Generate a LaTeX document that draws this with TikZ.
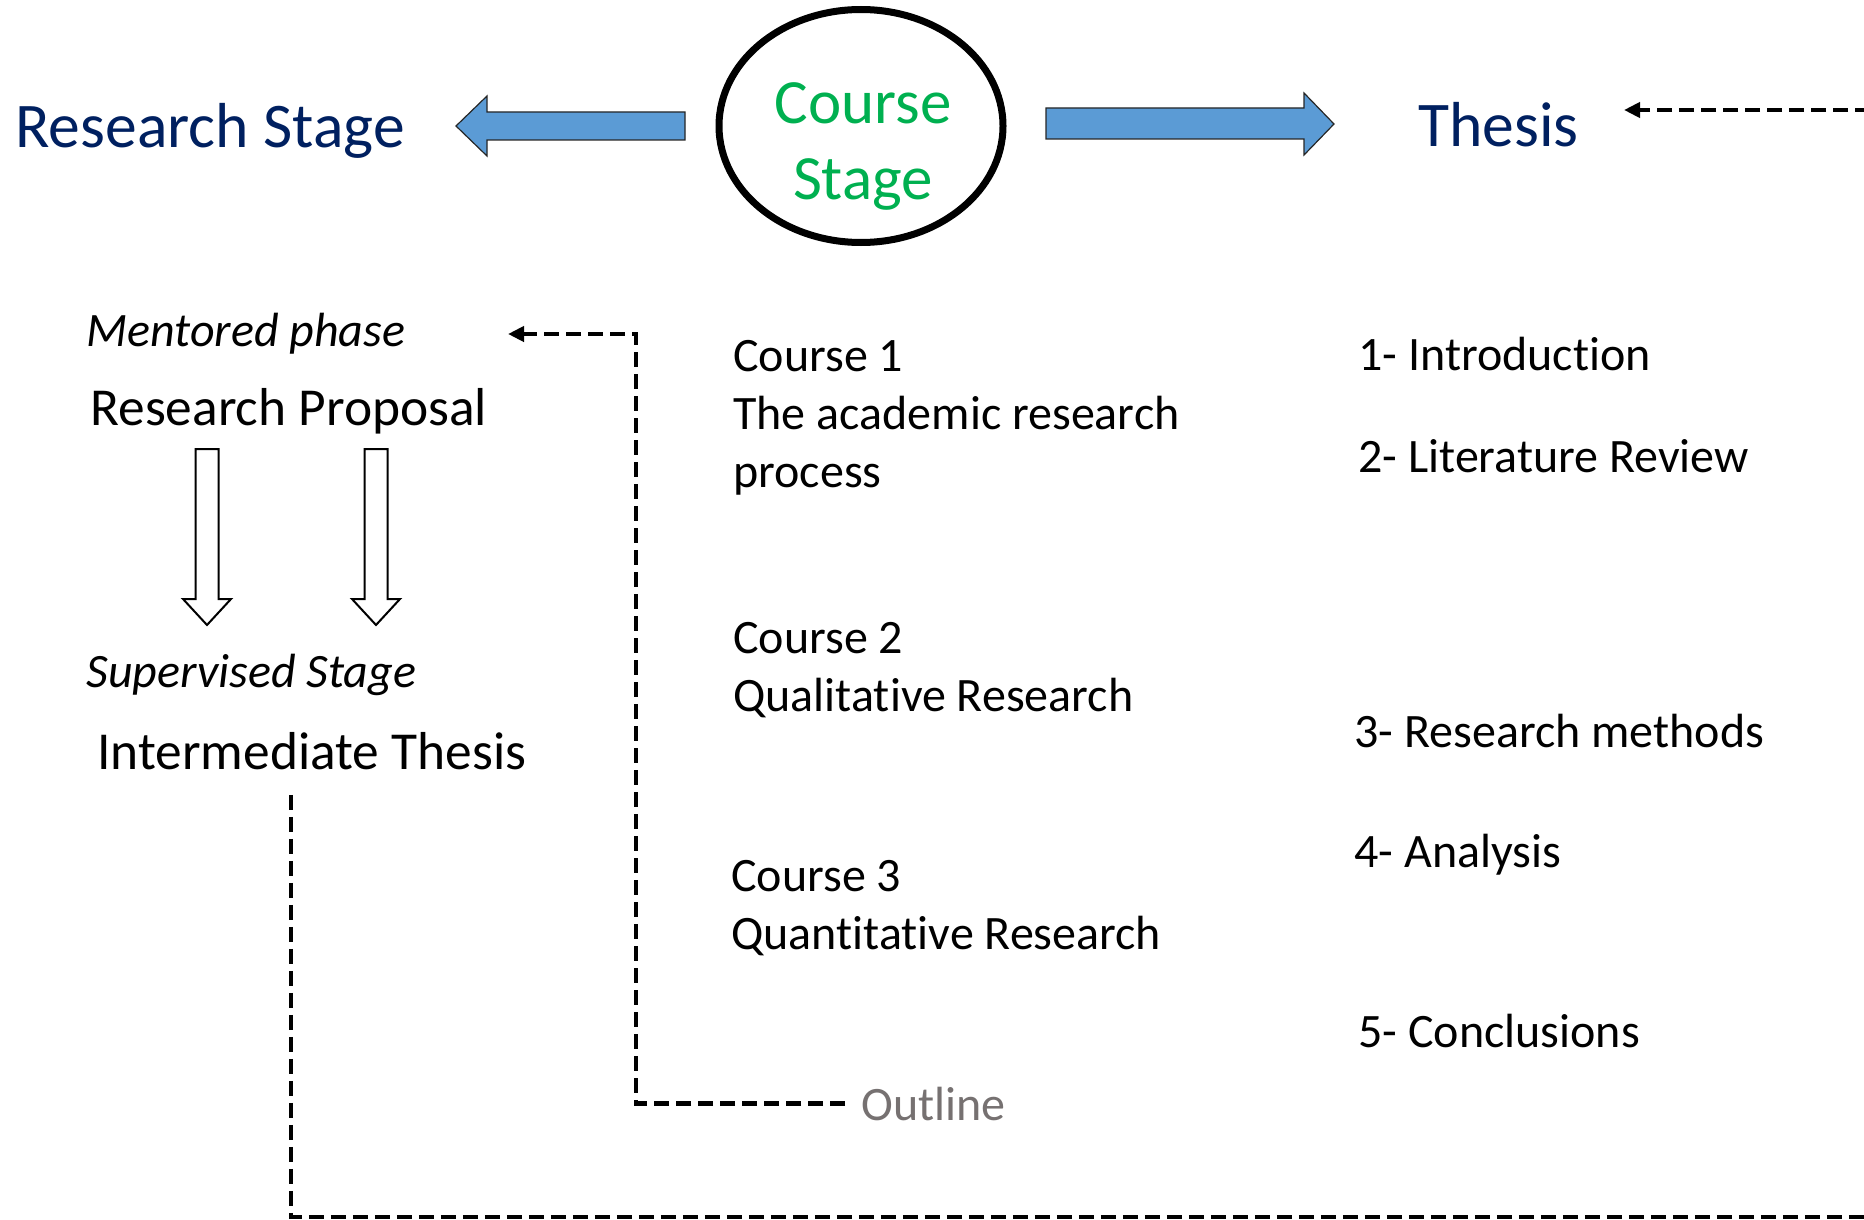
\documentclass[tikz,border=0pt]{standalone}
\usepackage{fontspec}
\setmainfont{Carlito}[Ligatures=NoCommon]
\usetikzlibrary{shapes.geometric, arrows.meta, calc}
\definecolor{navy}{HTML}{002060}
\definecolor{coursegreen}{HTML}{00B050}
\definecolor{arrowblue}{HTML}{5B9BD5}
\definecolor{outlinegray}{HTML}{767171}

\begin{document}
\begin{tikzpicture}[x=0.5pt, y=-0.5pt,
    every node/.style={inner sep=0pt, anchor=base west},
    stagetext/.style={text=navy, font=\fontsize{31.8}{38}\selectfont},
    mainitem/.style={font=\fontsize{26.7}{32}\selectfont},
    item/.style={font=\fontsize{24}{28.8}\selectfont, align=left},
    phase/.style={font=\fontsize{24}{29}\selectfont\itshape},
    link/.style={line width=2.4pt, dash pattern=on 7.5pt off 3.5pt, -{Triangle[length=8pt, width=7.5pt]}},
    blockarrow/.style={fill=arrowblue, draw=black!85, line width=0.6pt},
    hollowarrow/.style={draw=black, line width=1pt}]
    \useasboundingbox (0,0) rectangle (1864,1220);
    \clip (0,0) rectangle (1864,1220);

    % top row
    \node[stagetext] (research) at (15,148) {Research Stage};
    \node[draw, ellipse, line width=3.5pt, minimum width=142pt, minimum height=116.5pt, anchor=center] (course) at (861,126) {};
    \node[text=coursegreen, font=\fontsize{31.5}{38}\selectfont, align=center, anchor=base] (coursename) at (863,199) {Course\\Stage};
    \node[stagetext] (thesis) at (1418,147) {Thesis};
    \draw[blockarrow] (685,112) -- (487,112) -- (487,96) -- (456,126) -- (487,156) -- (487,140) -- (685,140) -- cycle;
    \draw[blockarrow] (1046,108) -- (1304,108) -- (1304,93) -- (1334,124) -- (1304,155) -- (1304,139) -- (1046,139) -- cycle;

    % research stage column
    \node[phase] (mentored) at (86,346) {Mentored phase};
    \node[mainitem] (proposal) at (90,425) {Research Proposal};
    \node[phase] (supervised) at (86,687) {Supervised Stage};
    \node[mainitem] (intermediate) at (97,769) {Intermediate Thesis};
    \foreach \cx in {207,376}
        \draw[hollowarrow] (\cx-11.5,449) -- (\cx+11.5,449) -- (\cx+11.5,599) -- (\cx+24,599) -- (\cx,625) -- (\cx-24,599) -- (\cx-11.5,599) -- cycle;

    % courses (anchored on the last line)
    \node[item] (course1) at (733,487) {Course 1\\The academic research\\process};
    \node[item] (course2) at (733,711) {Course 2\\Qualitative Research};
    \node[item] (course3) at (731,949) {Course 3\\Quantitative Research};
    \node[item, text=outlinegray] (outline) at (861,1120) {Outline};

    % thesis chapters
    \node[item] (intro) at (1358,370) {1- Introduction};
    \node[item] (litreview) at (1358,472) {2- Literature Review};
    \node[item] (methods) at (1354,747) {3- Research methods};
    \node[item] (analysis) at (1354,867) {4- Analysis};
    \node[item] (conclusions) at (1358,1047) {5- Conclusions};

    % dashed links
    \coordinate (mentorin) at (508,334);
    \coordinate (thesisin) at (1624,110);
    \draw[link] ([xshift=-8pt]outline.west) -| (636,334) -- (mentorin);
    \draw[link] ([shift={(97pt,-12.5pt)}]intermediate.south west) |- (1900,1217) |- (thesisin);
\end{tikzpicture}
\end{document}
